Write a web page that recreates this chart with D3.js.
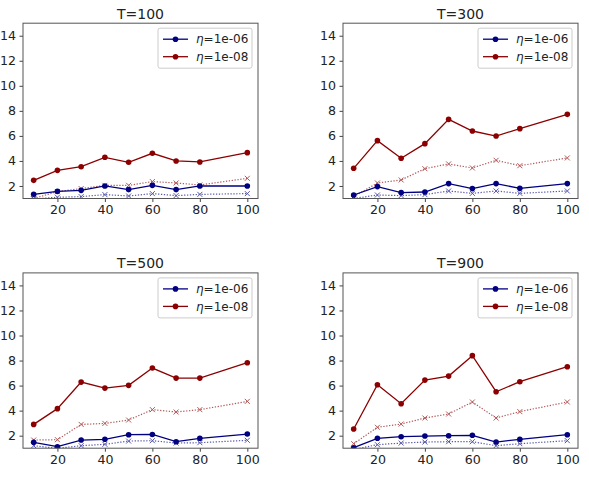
<!DOCTYPE html>
<html>
<head>
<meta charset="utf-8">
<script src="https://cdn.jsdelivr.net/npm/d3@7"></script>
<style>
  body { margin: 0; background: #fff; }
  text { font-family: "DejaVu Sans", sans-serif; fill: #222; }
</style>
</head>
<body>
<script>

const xValues = [10, 20, 30, 40, 50, 60, 70, 80, 100];
const titles = ["T=100", "T=300", "T=500", "T=900"];
const legendLabels = ["1e-06", "1e-08"];
const xTicks = [20, 40, 60, 80, 100];
const yTicks = [2, 4, 6, 8, 10, 12, 14];

// solid = eta series with circle markers, dotted = same eta with x markers
const T100_eta6 = [1.33, 1.57, 1.65, 2.0, 1.71, 2.05, 1.71, 2.0, 2.0];
const T100_eta8 = [2.45, 3.25, 3.54, 4.29, 3.89, 4.61, 4.0, 3.92, 4.66];
const T100_eta6_dot = [0.96, 1.1, 1.15, 1.31, 1.2, 1.39, 1.23, 1.33, 1.39];
const T100_eta8_dot = [1.0, 1.55, 1.79, 2.05, 2.05, 2.35, 2.24, 2.08, 2.61];

const T300_eta6 = [1.28, 1.95, 1.47, 1.52, 2.19, 1.79, 2.19, 1.81, 2.19];
const T300_eta8 = [3.41, 5.62, 4.21, 5.38, 7.32, 6.39, 5.99, 6.58, 7.72];
const T300_eta6_dot = [1.0, 1.28, 1.23, 1.31, 1.6, 1.41, 1.6, 1.41, 1.6];
const T300_eta8_dot = [1.15, 2.24, 2.48, 3.38, 3.76, 3.44, 4.05, 3.62, 4.24];

const T500_eta6 = [1.47, 1.12, 1.65, 1.71, 2.08, 2.1, 1.52, 1.79, 2.13];
const T500_eta8 = [2.9, 4.16, 6.28, 5.8, 6.02, 7.4, 6.6, 6.6, 7.83];
const T500_eta6_dot = [1.2, 0.99, 1.2, 1.31, 1.57, 1.6, 1.41, 1.44, 1.63];
const T500_eta8_dot = [1.65, 1.68, 2.9, 2.98, 3.25, 4.08, 3.89, 4.08, 4.74];

const T900_eta6 = [1.04, 1.79, 1.92, 1.97, 2.0, 2.03, 1.49, 1.71, 2.08];
const T900_eta8 = [2.53, 6.07, 4.55, 6.44, 6.76, 8.39, 5.51, 6.31, 7.51];
const T900_eta6_dot = [0.9, 1.28, 1.41, 1.49, 1.52, 1.52, 1.2, 1.36, 1.6];
const T900_eta8_dot = [1.36, 2.67, 2.93, 3.41, 3.73, 4.69, 3.41, 3.92, 4.69];

const panels = [
    {title: titles[0], eta6: T100_eta6, eta8: T100_eta8, eta6dot: T100_eta6_dot, eta8dot: T100_eta8_dot},
    {title: titles[1], eta6: T300_eta6, eta8: T300_eta8, eta6dot: T300_eta6_dot, eta8dot: T300_eta8_dot},
    {title: titles[2], eta6: T500_eta6, eta8: T500_eta8, eta6dot: T500_eta6_dot, eta8dot: T500_eta8_dot},
    {title: titles[3], eta6: T900_eta6, eta8: T900_eta8, eta6dot: T900_eta6_dot, eta8dot: T900_eta8_dot}
];

const blue = "#000080",
      red = "#8b0000";

const width = 589, height = 483;
const plotW = 235, plotH = 175.3;
const origins = [[23, 23.2], [343, 23.2], [23, 272.9], [343, 272.9]];

const svg = d3.select("body")
    .append("svg")
    .attr("width", width)
    .attr("height", height);

const x = d3.scaleLinear().domain([5.5, 104.5]).range([0, plotW]);
const y = d3.scaleLinear().domain([1, 15]).range([plotH, 0]);

const line = d3.line()
    .x(function (d, i) { return x(xValues[i]); })
    .y(function (d) { return y(d); });

svg.append("defs").append("clipPath")
    .attr("id", "plotclip")
    .append("rect")
    .attr("width", plotW)
    .attr("height", plotH);

panels.forEach(function (p, k) {
    const g = svg.append("g")
        .attr("transform", `translate(${origins[k][0]}, ${origins[k][1]})`);

    g.append("text")
        .attr("x", plotW / 2)
        .attr("y", -4.5)
        .attr("text-anchor", "middle")
        .style("font-size", "14px")
        .text(p.title);

    const xAxis = g.append("g")
        .attr("transform", `translate(0, ${plotH})`)
        .call(d3.axisBottom(x).tickValues(xTicks).tickSize(3.5).tickPadding(3.5));
    const yAxis = g.append("g")
        .call(d3.axisLeft(y).tickValues(yTicks).tickSize(3.5).tickPadding(3.5));

    [xAxis, yAxis].forEach(function (a) {
        a.select(".domain").remove();
        a.selectAll("line").attr("stroke", "#444");
        a.selectAll("text")
            .style("font-family", "DejaVu Sans, sans-serif")
            .style("font-size", "12.6px")
            .attr("fill", "#222");
    });

    const plot = g.append("g").attr("clip-path", "url(#plotclip)");

    const series = [
        {data: p.eta6dot, color: blue, dotted: true},
        {data: p.eta8dot, color: red, dotted: true},
        {data: p.eta6, color: blue, dotted: false},
        {data: p.eta8, color: red, dotted: false}
    ];

    series.forEach(function (s) {
        const sg = plot.append("g").attr("opacity", s.dotted ? 0.65 : 1);
        sg.append("path")
            .attr("fill", "none")
            .attr("stroke", s.color)
            .attr("stroke-width", s.dotted ? 1.2 : 1.3)
            .attr("stroke-dasharray", s.dotted ? "1.3,1.6" : null)
            .attr("d", line(s.data));

        if (s.dotted) {
            sg.selectAll("path.mark")
                .data(s.data)
                .enter().append("path")
                .attr("class", "mark")
                .attr("stroke", s.color)
                .attr("stroke-width", 1)
                .attr("d", function (d, i) {
                    const cx = x(xValues[i]), cy = y(d), r = 2.5;
                    return `M${cx - r},${cy - r}L${cx + r},${cy + r}M${cx - r},${cy + r}L${cx + r},${cy - r}`;
                });
        } else {
            sg.selectAll("circle")
                .data(s.data)
                .enter().append("circle")
                .attr("cx", function (d, i) { return x(xValues[i]); })
                .attr("cy", function (d) { return y(d); })
                .attr("r", 2.8)
                .attr("fill", s.color);
        }
    });

    g.append("rect")
        .attr("width", plotW)
        .attr("height", plotH)
        .attr("fill", "none")
        .attr("stroke", "#555")
        .attr("stroke-width", 1);

    // legend
    const lg = g.append("g").attr("transform", `translate(${plotW - 100}, 5)`);
    lg.append("rect")
        .attr("width", 94)
        .attr("height", 40)
        .attr("rx", 2)
        .attr("fill", "#fff")
        .attr("fill-opacity", 0.8)
        .attr("stroke", "#ccc");

    [blue, red].forEach(function (c, i) {
        const ry = 11 + i * 17.5;
        lg.append("line")
            .attr("x1", 5).attr("x2", 30)
            .attr("y1", ry).attr("y2", ry)
            .attr("stroke", c)
            .attr("stroke-width", 1.3);
        lg.append("circle")
            .attr("cx", 17.5).attr("cy", ry)
            .attr("r", 2.8)
            .attr("fill", c);
        const t = lg.append("text")
            .attr("x", 38)
            .attr("y", ry + 4.3)
            .style("font-size", "12px");
        t.append("tspan").style("font-style", "italic").text("η");
        t.append("tspan").text("=" + legendLabels[i]);
    });
});
</script>
</body>
</html>
